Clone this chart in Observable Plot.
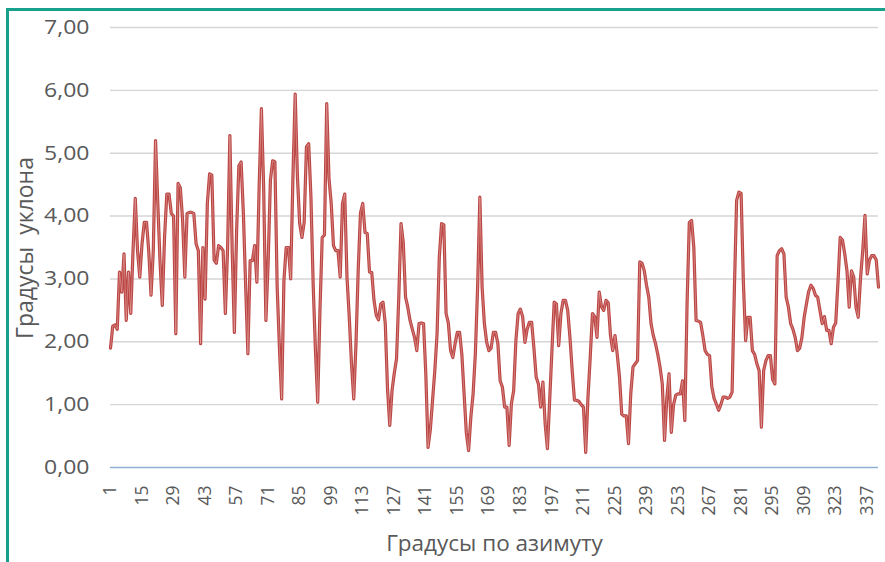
<!DOCTYPE html>
<html>
<head>
<meta charset="utf-8">
<script src="https://cdn.jsdelivr.net/npm/d3@7"></script>
<script src="https://cdn.jsdelivr.net/npm/@observablehq/plot@0.6"></script>
<style>
  html, body { margin: 0; padding: 0; background: #ffffff; }
  #wrap { position: relative; width: 885px; height: 562px; overflow: hidden; background: #ffffff; }
  #frame {
    position: absolute; left: 6px; top: 8px; width: 920px; height: 600px;
    border-left: 3px solid #17a08b; border-top: 3px solid #17a08b;
    pointer-events: none;
  }
  #wrap svg { position: absolute; left: 0; top: 0; }
  #ytitle {
    position: absolute; left: 24px; top: 248px;
    transform: translate(-50%, -50%) rotate(-90deg);
    white-space: pre; font-family: 'Open Sans', sans-serif; font-size: 23px;
    color: #595959; line-height: 1;
  }
</style>
</head>
<body>
<div id="wrap"><div id="frame"></div><div id="ytitle"></div></div>
<script>
// Slope (degrees) for each azimuth step 1…342
const slope = [
  1.90, 2.25, 2.27, 2.20, 3.11, 2.79, 3.40, 2.34, 3.11, 2.45,
  3.45, 4.28, 3.45, 3.03, 3.56, 3.90, 3.90, 3.43, 2.74, 3.45,
  5.20, 4.20, 3.27, 2.58, 3.66, 4.35, 4.35, 4.04, 4.00, 2.13,
  4.52, 4.45, 3.95, 3.03, 4.04, 4.06, 4.06, 4.04, 3.56, 3.45,
  1.97, 3.50, 2.68, 4.20, 4.67, 4.65, 3.30, 3.25, 3.53, 3.50,
  3.45, 2.45, 3.50, 5.28, 3.50, 2.15, 3.77, 4.80, 4.86, 4.04,
  2.90, 1.81, 3.29, 3.29, 3.53, 2.95, 4.46, 5.71, 4.46, 2.34,
  3.27, 4.57, 4.88, 4.86, 2.87, 1.91, 1.09, 2.97, 3.50, 3.50,
  3.00, 4.62, 5.94, 4.62, 3.88, 3.66, 3.90, 5.10, 5.15, 4.30,
  2.90, 1.86, 1.04, 2.50, 3.66, 3.70, 5.79, 4.60, 4.20, 3.53,
  3.45, 3.45, 3.03, 4.20, 4.35, 3.03, 2.40, 1.65, 1.09, 1.97,
  3.16, 4.05, 4.20, 3.74, 3.72, 3.11, 3.10, 2.66, 2.42, 2.35,
  2.60, 2.63, 2.29, 1.25, 0.67, 1.22, 1.50, 1.73, 2.71, 3.88,
  3.58, 2.71, 2.55, 2.34, 2.20, 2.07, 1.86, 2.29, 2.30, 2.29,
  1.49, 0.32, 0.60, 1.07, 1.54, 2.13, 3.35, 3.88, 3.86, 2.45,
  2.30, 1.86, 1.75, 1.97, 2.15, 2.15, 1.80, 1.17, 0.55, 0.27,
  0.80, 1.17, 1.81, 2.87, 4.30, 2.87, 2.29, 2.00, 1.86, 1.90,
  2.15, 2.15, 1.97, 1.38, 1.28, 0.96, 0.96, 0.35, 1.01, 1.22,
  2.02, 2.45, 2.52, 2.40, 1.99, 2.20, 2.31, 2.31, 1.90, 1.44,
  1.33, 0.96, 1.36, 0.69, 0.30, 1.07, 1.86, 2.63, 2.60, 1.94,
  2.45, 2.66, 2.66, 2.50, 2.07, 1.54, 1.07, 1.07, 1.05, 1.00,
  0.96, 0.24, 1.12, 1.75, 2.45, 2.40, 2.07, 2.79, 2.56, 2.50,
  2.66, 2.62, 2.10, 1.86, 2.10, 1.80, 1.44, 0.85, 0.82, 0.82,
  0.38, 1.17, 1.60, 1.65, 1.70, 3.27, 3.25, 3.13, 2.90, 2.71,
  2.29, 2.10, 1.97, 1.80, 1.60, 1.33, 0.43, 1.10, 1.49, 0.56,
  1.00, 1.15, 1.17, 1.17, 1.38, 0.75, 2.60, 3.90, 3.93, 3.50,
  2.34, 2.33, 2.31, 2.10, 1.86, 1.80, 1.78, 1.28, 1.10, 1.01,
  0.91, 1.00, 1.12, 1.12, 1.10, 1.12, 1.20, 2.82, 4.25, 4.38,
  4.36, 2.95, 2.02, 2.39, 2.39, 1.86, 1.80, 1.65, 1.54, 0.64,
  1.54, 1.70, 1.78, 1.78, 1.40, 1.33, 3.37, 3.45, 3.48, 3.40,
  2.71, 2.55, 2.29, 2.20, 2.07, 1.86, 1.90, 2.07, 2.39, 2.60,
  2.80, 2.90, 2.85, 2.74, 2.71, 2.50, 2.29, 2.40, 2.18, 2.18,
  1.97, 2.23, 2.30, 2.95, 3.66, 3.62, 3.40, 3.13, 2.55, 3.13,
  3.03, 2.55, 2.39, 3.00, 3.45, 4.01, 3.08, 3.30, 3.37, 3.37,
  3.30, 2.87
];

// Azimuth category for each value
const azimuth = slope.map((_, i) => i + 1);

// Labelled azimuth ticks
const xTicks = [1, 15, 29, 43, 57, 71, 85, 99, 113, 127, 141, 155, 169, 183,
                197, 211, 225, 239, 253, 267, 281, 295, 309, 323, 337];

// Slope gridlines / tick labels
const yTicks = [0, 1, 2, 3, 4, 5, 6, 7];

const xTitle = "Градусы по азимуту";
const yTitle = "Градусы  уклона";

const rows = azimuth.map((a, i) => ({azimuth: a, slope: slope[i]}));

const chart = Plot.plot({
  width: 885,
  height: 562,
  marginLeft: 110,
  marginRight: 7,
  marginTop: 27,
  marginBottom: 95,
  style: {fontFamily: "'Open Sans', sans-serif", color: "#595959", background: "transparent", overflow: "visible"},
  x: {domain: [1, azimuth.length]},
  y: {domain: [0, 7]},
  marks: [
    Plot.gridY(yTicks.filter(d => d > 0), {stroke: "#d6d6d6", strokeOpacity: 1, strokeWidth: 1.4}),
    Plot.ruleY([0], {stroke: "#8fb0d6", strokeWidth: 1.5}),
    Plot.axisY(yTicks, {
      tickSize: 0, tickPadding: 21, fontSize: 20, fill: "#595959",
      tickFormat: d => d.toFixed(2).replace(".", ","), label: null
    }),
    Plot.axisX(xTicks, {
      tickSize: 0, tickPadding: 18, tickRotate: -90, fontSize: 17.5, fill: "#595959", label: null
    }),
    // slope profile: dark red stroke with a pale core
    Plot.line(rows, {x: "azimuth", y: "slope", stroke: "#bb4643", strokeWidth: 3.2, strokeLinejoin: "round"}),
    Plot.line(rows, {x: "azimuth", y: "slope", stroke: "#f2c9c7", strokeWidth: 0.8, strokeOpacity: 0.55, strokeLinejoin: "round"}),
    Plot.text([xTitle], {frameAnchor: "bottom", dy: 83, fontSize: 22.5, fill: "#595959"})
  ]
});

// widen the y tick labels a little around their right-hand anchor
d3.select(chart).selectAll("g[aria-label='y-axis tick label'] text").each(function () {
  const t = this.getAttribute("transform");
  if (t && t.includes("translate")) this.setAttribute("transform", t + " scale(1.15,1)");
});

document.getElementById("ytitle").textContent = yTitle;
document.getElementById("wrap").prepend(chart);
</script>
</body>
</html>
